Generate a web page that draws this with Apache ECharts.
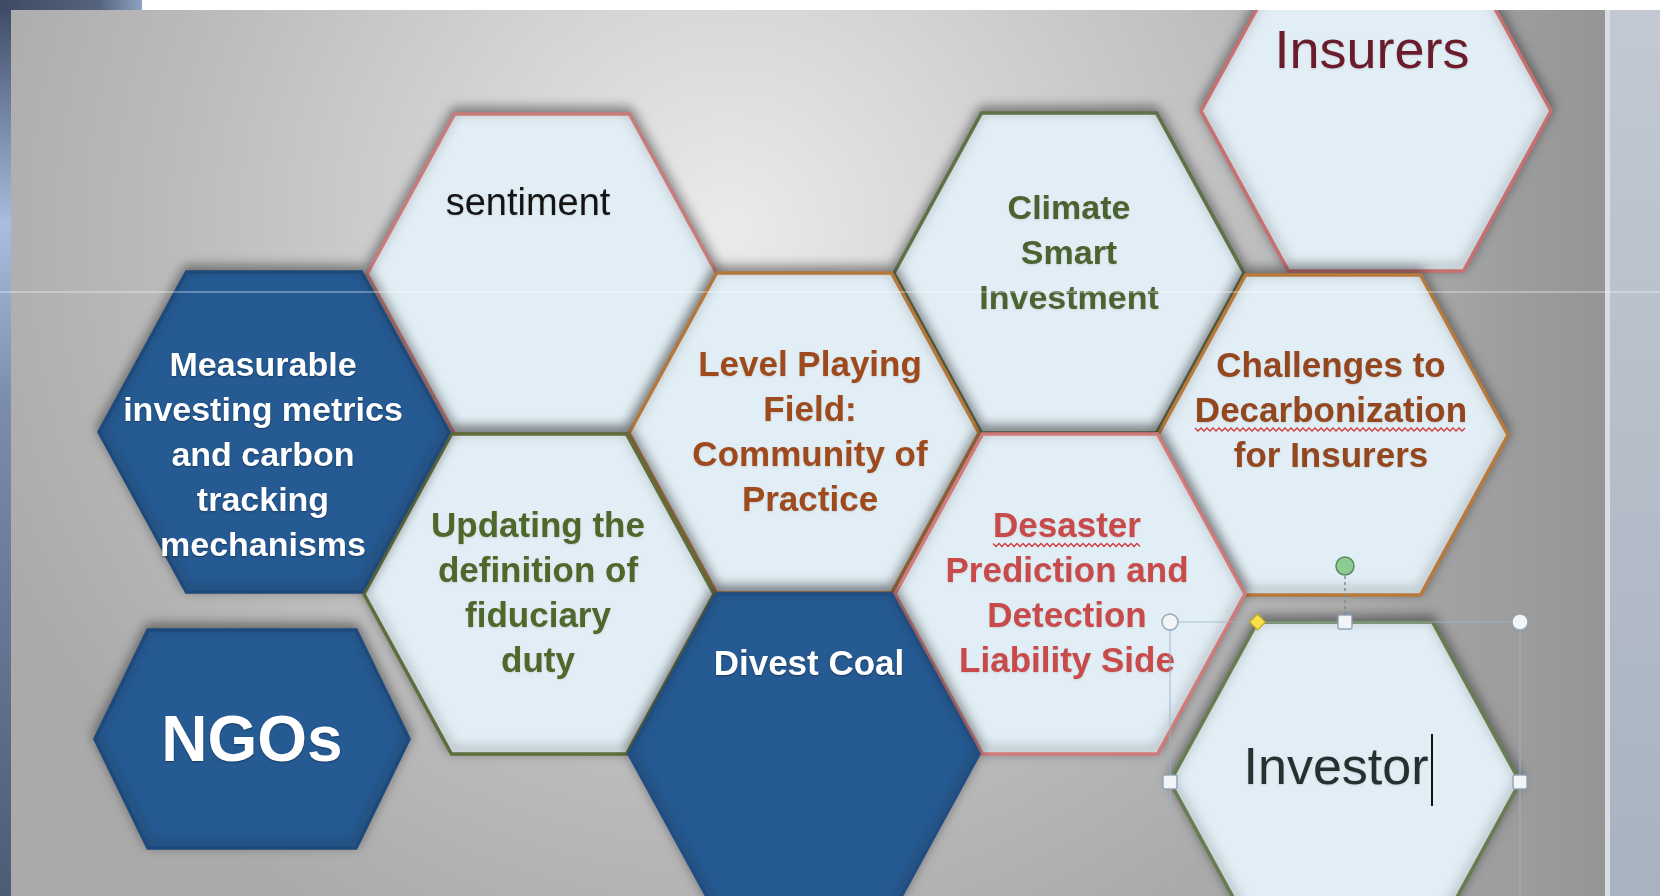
<!DOCTYPE html>
<html><head><meta charset="utf-8">
<script src="https://cdn.jsdelivr.net/npm/echarts@6/dist/echarts.min.js"></script>
<style>html,body{margin:0;padding:0;background:#fff;overflow:hidden}#c{width:1660px;height:896px}</style>
</head><body><div id="c"></div>
<script>
// ---- data ----
const hexNames = ['sentiment','Climate','Insurers','LevelPlaying','Challenges','Updating','Desaster','Divest','Measurable','NGOs','Investor'];
const hexLabels = [
  'sentiment',
  'Climate\nSmart\nInvestment',
  'Insurers',
  'Level Playing\nField:\nCommunity of\nPractice',
  'Challenges to\nDecarbonization\nfor Insurers',
  'Updating the\ndefinition of\nfiduciary\nduty',
  'Desaster\nPrediction and\nDetection\nLiability Side',
  'Divest Coal',
  'Measurable\ninvesting metrics\nand carbon\ntracking\nmechanisms',
  'NGOs',
  'Investor'
];
const hexX = [542, 1069, 1376, 804, 1333, 539, 1070, 804, 274, 252, 1345];
const hexY = [274, 273, 111, 433, 435, 594, 594, 754, 432, 739, 782];

// ---- styles (not data) ----
const LIGHT = '#e2eef5', DARK = '#255a93';
const B = '"Liberation Sans", Arial, sans-serif';
const look = {
  sentiment:   {fill:LIGHT, stroke:'#c97b7a', color:'#141414', font:'400 38px '+B, dx:-14, dy:-69},
  Climate:     {fill:LIGHT, stroke:'#5e7147', color:'#4a6331', font:'700 34px '+B, dx:0, dy:-18},
  Insurers:    {fill:LIGHT, stroke:'#c96f6f', color:'#6a1c2c', font:'400 54px '+B, dx:-4, dy:-58},
  LevelPlaying:{fill:LIGHT, stroke:'#b5773c', color:'#9e4a1c', font:'700 35px '+B, dx:6, dy:1},
  Challenges:  {fill:LIGHT, stroke:'#b8793b', color:'#94461e', font:'700 35px '+B, dx:-2, dy:-23, wavy:{line:1, w:272}},
  Updating:    {fill:LIGHT, stroke:'#5f6d3b', color:'#4e672a', font:'700 35px '+B, dx:-1, dy:1},
  Desaster:    {fill:LIGHT, stroke:'#d27a7a', color:'#c84a4a', font:'700 35px '+B, dx:-3, dy:1, wavy:{line:0, w:148}},
  Divest:      {fill:DARK,  stroke:'#204d84', color:'#ffffff', font:'700 35px '+B, dx:5, dy:-89},
  Measurable:  {fill:DARK,  stroke:'#1d4a7c', color:'#ffffff', font:'700 34px '+B, dx:-11, dy:25},
  NGOs:        {fill:DARK,  stroke:'#1d4a7c', color:'#ffffff', font:'700 64px '+B, dx:0, dy:4, r:157, h:109, inset:53},
  Investor:    {fill:LIGHT, stroke:'#687c52', color:'#263030', font:'400 52px '+B, dx:-9, dy:-12, selected:true}
};
const LH = 45;

function renderHex(params, api){
  const i = params.dataIndex;
  const st = look[hexNames[i]];
  const c = api.coord([api.value(0), api.value(1)]);
  const sz = api.size([st.r || 175, st.h || 160]);
  const R = Math.abs(sz[0]), H = Math.abs(sz[1]);
  const ins = st.inset ? Math.abs(api.size([st.inset,0])[0]) : R/2;
  const cx = c[0], cy = c[1];
  const pts = [[cx-R,cy],[cx-R+ins,cy-H],[cx+R-ins,cy-H],[cx+R,cy],[cx+R-ins,cy+H],[cx-R+ins,cy+H]];
  const kids = [];
  kids.push({type:'polygon', shape:{points:pts},
    style:{fill:st.fill, stroke:st.stroke, lineWidth:3.5, lineJoin:'miter',
      shadowBlur:12, shadowColor:'rgba(40,40,40,0.55)', shadowOffsetY:-4}});
  const tx = cx + st.dx, ty = cy + st.dy;
  const nLines = hexLabels[i].split('\n').length;
  const isDark = st.fill === DARK;
  kids.push({type:'text', x:tx, y:ty,
    style:{text:hexLabels[i], fill:st.color, font:st.font, align:'center', verticalAlign:'middle', lineHeight:LH,
      textShadowColor: isDark ? 'rgba(0,0,0,0.35)' : 'rgba(0,0,0,0.12)', textShadowBlur: 2, textShadowOffsetY:1}});
  if (st.wavy){
    const ly = ty - (nLines*LH)/2 + LH*st.wavy.line + LH/2 + 17;
    const wp = [];
    for (let x = tx - st.wavy.w/2, k=0; x <= tx + st.wavy.w/2; x += 3, k++) wp.push([x, ly + (k%2 ? 2 : -1)]);
    kids.push({type:'polyline', shape:{points:wp}, style:{stroke:'#d23a3a', lineWidth:1.3, fill:null}});
  }
  if (st.selected){
    const top = cy - H, L = cx - R, Rt = cx + R;
    const hs = 'rgba(140,160,180,0.9)';
    kids.push({type:'line', shape:{x1:L,y1:top,x2:Rt,y2:top}, style:{stroke:'rgba(160,180,200,0.8)', lineWidth:1.2}});
    kids.push({type:'line', shape:{x1:L,y1:top,x2:L,y2:cy+H+20}, style:{stroke:'rgba(160,180,200,0.8)', lineWidth:1.2}});
    kids.push({type:'line', shape:{x1:Rt,y1:top,x2:Rt,y2:cy+H+20}, style:{stroke:'rgba(160,180,200,0.8)', lineWidth:1.2}});
    kids.push({type:'line', shape:{x1:cx,y1:top-52,x2:cx,y2:top}, style:{stroke:'#7a8a90', lineWidth:1.5, lineDash:[3,3]}});
    kids.push({type:'circle', shape:{cx:cx, cy:top-56, r:9}, style:{fill:'#8ccc92', stroke:'#5a8a62', lineWidth:1.5}});
    [[L,top],[Rt,top]].forEach(p=>kids.push({type:'circle', shape:{cx:p[0],cy:p[1],r:8}, style:{fill:'#f2f4f6', stroke:hs, lineWidth:1.5}}));
    [[cx,top],[L,cy],[Rt,cy]].forEach(p=>kids.push({type:'rect', shape:{x:p[0]-7,y:p[1]-7,width:14,height:14,r:2}, style:{fill:'#f2f4f6', stroke:hs, lineWidth:1.5}}));
    const dxp = cx - R + ins;
    kids.push({type:'polygon', shape:{points:[[dxp,top-8],[dxp+8,top],[dxp,top+8],[dxp-8,top]]}, style:{fill:'#f3e04a', stroke:'#c0a828', lineWidth:1.2}});
    kids.push({type:'line', shape:{x1:tx+96, y1:ty-36, x2:tx+96, y2:ty+36}, style:{stroke:'#111', lineWidth:2}});
  }
  return {type:'group', children:kids};
}

const chart = echarts.init(document.getElementById('c'), null, {renderer:'canvas'});
chart.setOption({
  animation:false,
  grid:{left:0,right:0,top:0,bottom:0},
  xAxis:{type:'value', min:0, max:1660, show:false},
  yAxis:{type:'value', min:0, max:896, inverse:true, show:false},
  graphic:[
    {type:'rect', z:-10, shape:{x:0,y:0,width:1660,height:896},
      style:{fill:{type:'linear',x:0,y:0,x2:0,y2:1,colorStops:[{offset:0,color:'#3c4862'},{offset:0.25,color:'#a9bde0'},{offset:0.45,color:'#7c8cab'},{offset:1,color:'#4e5b75'}]}}},
    {type:'rect', z:-9, shape:{x:11,y:10,width:1594,height:886},
      style:{fill:{type:'radial',x:0.45,y:0.25,r:0.9,colorStops:[{offset:0,color:'#ebebeb'},{offset:0.35,color:'#d3d3d3'},{offset:0.7,color:'#bbbbbb'},{offset:1,color:'#aaaaaa'}]}}},
    {type:'rect', z:-8, shape:{x:1330,y:10,width:275,height:886},
      style:{fill:{type:'linear',x:0,y:0,x2:1,y2:0,colorStops:[{offset:0,color:'rgba(140,140,140,0)'},{offset:1,color:'rgba(135,135,135,0.6)'}]}}},
    {type:'rect', z:-8, shape:{x:1605,y:10,width:55,height:886},
      style:{fill:{type:'linear',x:0,y:0,x2:0,y2:1,colorStops:[{offset:0,color:'#c2c9d3'},{offset:1,color:'#a9b2c0'}]}}},
    {type:'rect', z:-7, shape:{x:1605,y:10,width:5,height:886}, style:{fill:'#d8dde4'}},
    {type:'rect', z:200, shape:{x:142,y:0,width:1518,height:10}, style:{fill:'#ffffff'}},
    {type:'rect', z:200, shape:{x:0,y:0,width:142,height:10},
      style:{fill:{type:'linear',x:0,y:0,x2:1,y2:0,colorStops:[{offset:0,color:'#3e4a64'},{offset:0.7,color:'#56647e'},{offset:1,color:'#8ea2c4'}]}}},
    {type:'line', z:100, shape:{x1:0,y1:292,x2:1660,y2:292}, style:{stroke:'rgba(255,255,255,0.6)', lineWidth:1}}
  ],
  series:[{
    type:'custom',
    coordinateSystem:'cartesian2d',
    clip:false,
    data: hexX.map((x,i)=>[x, hexY[i]]),
    renderItem: renderHex
  }]
});
</script>
</body></html>
